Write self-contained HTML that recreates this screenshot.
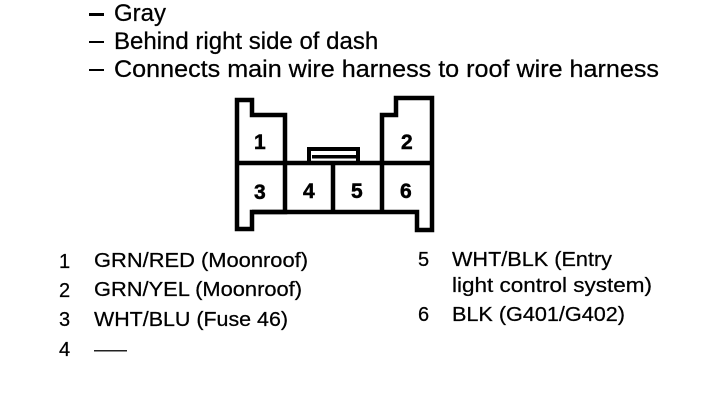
<!DOCTYPE html>
<html>
<head>
<meta charset="utf-8">
<style>
html,body{margin:0;padding:0;background:#fff;}
body{width:704px;height:406px;overflow:hidden;position:relative;}
svg{position:absolute;left:0;top:0;}
text{font-family:"Liberation Sans",sans-serif;fill:#000;stroke:#000;stroke-width:.25px;}
.h{font-size:24px;}
.l{font-size:20px;}
.n{font-size:21px;font-weight:bold;stroke-width:.5px;}
</style>
</head>
<body>
<svg width="704" height="406" viewBox="0 0 704 406">
<rect x="89" y="13" width="15" height="3" fill="#000"/>
<rect x="89" y="41" width="15" height="2" fill="#000"/>
<rect x="89" y="69" width="15" height="2" fill="#000"/>
<text class="h" x="114" y="21">Gray</text>
<text class="h" x="114" y="49">Behind right side of dash</text>
<text class="h" x="114" y="77" textLength="545" lengthAdjust="spacingAndGlyphs">Connects main wire harness to roof wire harness</text>

<g fill="none" stroke="#000" stroke-width="4.5">
<path d="M237 100H252V115H285V212H252V229H237Z"/>
<path d="M382 212V115H396V98H432V230H417V212H252"/>
<path d="M237 163H432"/>
<path d="M333 163V212"/>
</g>
<path d="M309 163V149H358V163" fill="none" stroke="#000" stroke-width="4"/>
<rect x="312" y="155" width="44" height="3.5" fill="#000"/>

<text class="n" x="254" y="149">1</text>
<text class="n" x="401" y="149">2</text>
<text class="n" x="254" y="199">3</text>
<text class="n" x="303" y="198">4</text>
<text class="n" x="351" y="198">5</text>
<text class="n" x="400" y="198">6</text>

<text class="l" x="59" y="268">1</text>
<text class="l" x="94" y="267" textLength="214" lengthAdjust="spacingAndGlyphs">GRN/RED (Moonroof)</text>
<text class="l" x="59" y="297">2</text>
<text class="l" x="94" y="296" textLength="208" lengthAdjust="spacingAndGlyphs">GRN/YEL (Moonroof)</text>
<text class="l" x="59" y="326">3</text>
<text class="l" x="94" y="326" textLength="194" lengthAdjust="spacingAndGlyphs">WHT/BLU (Fuse 46)</text>
<text class="l" x="59" y="356">4</text>
<rect x="94" y="350" width="33" height="1.5" fill="#222"/>

<text class="l" x="418" y="266">5</text>
<text class="l" x="452" y="266" textLength="160" lengthAdjust="spacingAndGlyphs">WHT/BLK (Entry</text>
<text class="l" x="452" y="292" textLength="200" lengthAdjust="spacingAndGlyphs">light control system)</text>
<text class="l" x="418" y="321">6</text>
<text class="l" x="452" y="321" textLength="173" lengthAdjust="spacingAndGlyphs">BLK (G401/G402)</text>
</svg>
</body>
</html>
